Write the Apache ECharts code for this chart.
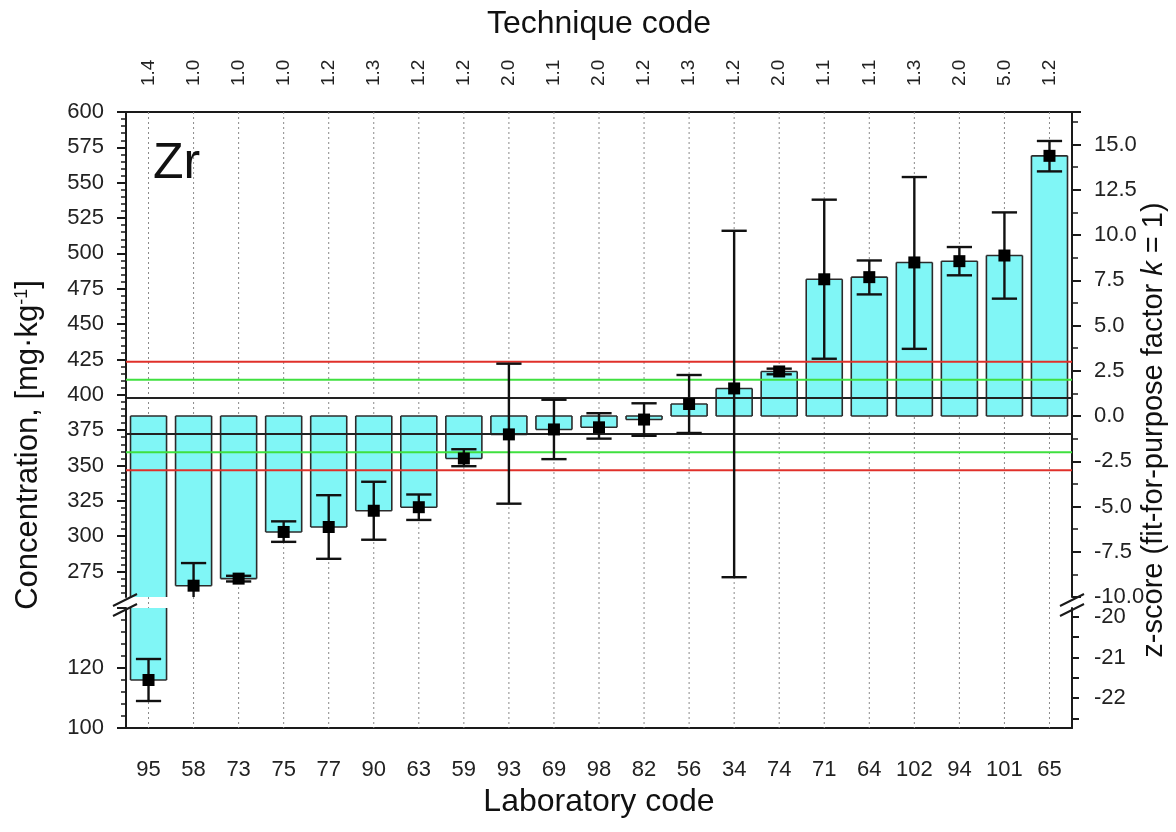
<!DOCTYPE html>
<html>
<head>
<meta charset="utf-8">
<title>Zr</title>
<script src="https://cdn.jsdelivr.net/npm/echarts@6/dist/echarts.min.js"></script>
<style>
html, body { margin: 0; padding: 0; background: #fff; }
#main { width: 1176px; height: 832px; }
</style>
</head>
<body>
<div id="main"></div>
<script>
// laboratory codes (bottom axis) and technique codes (top axis)
var labCodes = ['95', '58', '73', '75', '77', '90', '63', '59', '93', '69', '98',
                '82', '56', '34', '74', '71', '64', '102', '94', '101', '65'];
var techCodes = ['1.4', '1.0', '1.0', '1.0', '1.2', '1.3', '1.2', '1.2', '2.0', '1.1', '2.0',
                 '1.2', '1.3', '1.2', '2.0', '1.1', '1.1', '1.3', '2.0', '5.0', '1.2'];
// reported Zr concentration, mg/kg
var labValues = [116, 265, 270, 303, 306.5, 318, 320.5, 355, 372, 375.5, 377,
                 382.5, 393.5, 404.5, 416.5, 481.7, 483.2, 493.6, 494.5, 498.5, 569];
// uncertainty range (low / high ends of error bar)
var errLow = [109, 249, 268, 296, 284, 297.5, 311.5, 349.5, 323, 354.5, 369,
              371, 373, 271, 414.5, 425.5, 471, 432.5, 484.5, 468, 558];
var errHigh = [123, 281, 272, 310.5, 329, 338.5, 329.5, 361.5, 422, 396.5, 387,
               394, 414, 516, 418.5, 538, 495, 554, 504.5, 529, 579.5];

var assignedValue = 385;   // z = 0
var sigmaP = 12.8;         // fit-for-purpose sd
var zLines = [-3, -2, -1, 1, 2, 3];

// axis ranges of the broken axis
var upperMin = 257, upperMax = 600;
var lowerMin = 100, lowerMax = 140;
var zLowerMin = -22.74, zLowerMax = -19.78;
var upperLabels = [275, 300, 325, 350, 375, 400, 425, 450, 475, 500, 525, 550, 575, 600];

var upperMinor = [];
for (var t = 260; t <= 600; t += 5) upperMinor.push(t);

// layout
var plotLeft = 126, plotRight = 1072, plotTop = 112, plotBottom = 728;
var upperBottom = 597, lowerTop = 608;
var leftNameCenter = 445, rightNameCenter = 430;

var FONT = '"Liberation Sans", Arial, sans-serif';
var INK = '#1a1a1a';

function clipSpan(y0, y1, cs) {
    var a = Math.max(Math.min(y0, y1), cs.y);
    var b = Math.min(Math.max(y0, y1), cs.y + cs.height);
    return a < b ? [a, b] : null;
}
function isIn(y, cs) {
    return y >= cs.y - 0.5 && y <= cs.y + cs.height + 0.5;
}
function seg(x1, y1, x2, y2, style) {
    return { type: 'line', shape: { x1: x1, y1: y1, x2: x2, y2: y2 }, style: style };
}

function renderBar(params, api) {
    var i = api.value(0), v = api.value(1);
    var cs = params.coordSys;
    var p0 = api.coord([i, assignedValue]);
    var p1 = api.coord([i, v]);
    var w = api.size([1, 0])[0] * 0.8;
    var span = clipSpan(p0[1], p1[1], cs);
    if (!span) return;
    var xl = p0[0] - w / 2, xr = p0[0] + w / 2;
    var edge = { stroke: '#2b2b2b', lineWidth: 1.6 };
    var kids = [
        { type: 'rect', shape: { x: xl, y: span[0], width: w, height: span[1] - span[0] },
          style: { fill: '#80F6F6' } },
        seg(xl, span[0], xl, span[1], edge),
        seg(xr, span[0], xr, span[1], edge)
    ];
    if (isIn(p0[1], cs)) kids.push(seg(xl, p0[1], xr, p0[1], edge));
    if (isIn(p1[1], cs)) kids.push(seg(xl, p1[1], xr, p1[1], edge));
    return { type: 'group', children: kids };
}

function renderErr(params, api) {
    var i = api.value(0);
    var cs = params.coordSys;
    var pv = api.coord([i, api.value(1)]);
    var pl = api.coord([i, api.value(2)]);
    var ph = api.coord([i, api.value(3)]);
    var cap = api.size([1, 0])[0] * 0.28;
    var st = { stroke: '#111', lineWidth: 2.4 };
    var kids = [];
    var span = clipSpan(pl[1], ph[1], cs);
    if (span) kids.push(seg(pv[0], span[0], pv[0], span[1], st));
    if (isIn(pl[1], cs)) kids.push(seg(pv[0] - cap, pl[1], pv[0] + cap, pl[1], st));
    if (isIn(ph[1], cs)) kids.push(seg(pv[0] - cap, ph[1], pv[0] + cap, ph[1], st));
    if (isIn(pv[1], cs)) {
        kids.push({ type: 'rect', shape: { x: pv[0] - 6, y: pv[1] - 6, width: 12, height: 12 },
                    style: { fill: '#000' } });
    }
    return { type: 'group', children: kids };
}

function renderDots(params, api) {
    var cs = params.coordSys;
    var x = api.coord([api.value(0), 0])[0];
    return seg(x, cs.y, x, cs.y + cs.height,
               { stroke: '#8a8a8a', lineWidth: 1, lineDash: [2, 3] });
}

function renderZLine(params, api) {
    var cs = params.coordSys;
    var y = api.coord([0, api.value(1)])[1];
    var z = Math.abs(api.value(2));
    var color = z === 1 ? '#222' : (z === 2 ? '#3fe03f' : '#e0302a');
    return seg(cs.x, y, cs.x + cs.width, y, { stroke: color, lineWidth: 2 });
}

var chart = echarts.init(document.getElementById('main'), null, { renderer: 'canvas' });

var barData = labValues.map(function (v, i) { return [i, v]; });
var errData = labValues.map(function (v, i) { return [i, v, errLow[i], errHigh[i]]; });
var dotData = labCodes.map(function (c, i) { return [i, 0]; });
var zData = zLines.map(function (z) { return [0, assignedValue + z * sigmaP, z]; });

function hiddenX(gi) {
    return { type: 'category', gridIndex: gi, data: labCodes, show: false };
}
function nameAxis(gi, pos, name, gap, rich) {
    return {
        type: 'value', gridIndex: gi, position: pos, min: 0, max: 1,
        axisLine: { show: false }, axisTick: { show: false }, axisLabel: { show: false },
        splitLine: { show: false },
        name: name, nameLocation: 'middle', nameRotate: 90, nameGap: gap,
        nameTextStyle: { rich: rich }
    };
}

var tickStyle = { color: INK, width: 2 };
var lineStyle = { color: INK, width: 2 };
var labelStyle = { fontSize: 22, color: '#222', fontFamily: FONT };
var gridR = 1176 - plotRight;

var option = {
    animation: false,
    textStyle: { fontFamily: FONT },
    title: {
        text: 'Zr', left: 148, top: 134,
        textStyle: { fontSize: 50, fontWeight: 'normal', color: '#111', fontFamily: FONT }
    },
    grid: [
        { left: plotLeft, right: gridR, top: plotTop, bottom: 832 - plotBottom },
        { left: plotLeft, right: gridR, top: plotTop, height: upperBottom - plotTop },
        { left: plotLeft, right: gridR, top: lowerTop, height: plotBottom - lowerTop },
        { left: plotLeft, right: gridR, top: leftNameCenter - 100, height: 200 },
        { left: plotLeft, right: gridR, top: rightNameCenter - 100, height: 200 }
    ],
    xAxis: [
        {
            type: 'category', gridIndex: 0, data: labCodes, position: 'bottom',
            axisLine: { onZero: false, lineStyle: lineStyle },
            axisTick: { alignWithLabel: true, interval: 0, length: 11, lineStyle: tickStyle },
            axisLabel: { interval: 0, fontSize: 22, color: '#222', margin: 31, fontFamily: FONT },
            splitLine: { show: false },
            name: 'Laboratory code', nameLocation: 'middle', nameGap: 58,
            nameTextStyle: { fontSize: 32, color: '#111', fontFamily: FONT }
        },
        {
            type: 'category', gridIndex: 0, data: labCodes, position: 'top',
            axisLine: { onZero: false, lineStyle: lineStyle },
            axisTick: { alignWithLabel: true, interval: 0, length: 12, lineStyle: tickStyle },
            axisLabel: {
                interval: 0, rotate: -90, fontSize: 19, color: '#222', margin: 26, fontFamily: FONT,
                formatter: function (v, idx) { return techCodes[idx]; }
            },
            splitLine: { show: false },
            name: 'Technique code', nameLocation: 'middle', nameGap: 72,
            nameTextStyle: { fontSize: 32, color: '#111', fontFamily: FONT }
        },
        hiddenX(1),
        hiddenX(2),
        hiddenX(3),
        hiddenX(4)
    ],
    yAxis: [
        nameAxis(3, 'left', '{n|Concentration, [mg·kg}{s|-1}{n|]}', 82, {
            n: { fontSize: 31, color: '#111', fontFamily: FONT },
            s: { fontSize: 18, color: '#111', fontFamily: FONT, verticalAlign: 'top' }
        }),
        nameAxis(4, 'right', '{n|z-score (fit-for-purpose factor }{i|k}{n| = 1)}', 74, {
            n: { fontSize: 29, color: '#111', fontFamily: FONT },
            i: { fontSize: 29, color: '#111', fontFamily: FONT, fontStyle: 'italic' }
        }),
        {
            type: 'value', gridIndex: 1, position: 'left', min: upperMin, max: upperMax,
            axisLine: { show: true, lineStyle: lineStyle },
            axisTick: { show: true, length: 9, lineStyle: tickStyle, customValues: upperLabels },
            axisLabel: Object.assign({ margin: 22, customValues: upperLabels }, labelStyle),
            splitLine: { show: false }
        },
        {
            type: 'value', gridIndex: 1, position: 'left', min: upperMin, max: upperMax,
            axisLine: { show: false },
            axisTick: { show: true, length: 5, lineStyle: { color: INK, width: 1.5 }, customValues: upperMinor },
            axisLabel: { show: false },
            splitLine: { show: false }
        },
        {
            type: 'value', gridIndex: 1, position: 'right',
            min: -10, max: (upperMax - assignedValue) / sigmaP, interval: 2.5,
            axisLine: { show: true, lineStyle: lineStyle },
            axisTick: { show: true, length: 9, lineStyle: tickStyle },
            minorTick: { show: true, splitNumber: 2, length: 6, lineStyle: { color: INK, width: 1.5 } },
            axisLabel: Object.assign({
                margin: 22, showMaxLabel: false,
                formatter: function (v) { return v.toFixed(1); }
            }, labelStyle),
            splitLine: { show: false }
        },
        {
            type: 'value', gridIndex: 2, position: 'left', min: lowerMin, max: lowerMax, interval: 20,
            axisLine: { show: true, lineStyle: lineStyle },
            axisTick: { show: true, length: 9, lineStyle: tickStyle },
            minorTick: { show: true, splitNumber: 5, length: 5, lineStyle: { color: INK, width: 1.5 } },
            axisLabel: Object.assign({ margin: 22, showMaxLabel: false }, labelStyle),
            splitLine: { show: false }
        },
        {
            type: 'value', gridIndex: 2, position: 'right', min: zLowerMin, max: zLowerMax,
            splitNumber: 6,
            axisLine: { show: true, lineStyle: lineStyle },
            axisTick: { show: true, length: 7, lineStyle: tickStyle },
            axisLabel: Object.assign({
                margin: 22, showMinLabel: false, showMaxLabel: false,
                formatter: function (v) {
                    return Math.abs(v - Math.round(v)) < 1e-6 ? String(Math.round(v)) : '';
                }
            }, labelStyle),
            splitLine: { show: false }
        },
        {
            // frame grid value axis (only used to place the dotted guide lines)
            type: 'value', gridIndex: 0, min: 0, max: 1, show: false
        }
    ],
    graphic: [
        // axis break marks
        { type: 'line', shape: { x1: plotLeft - 13, y1: upperBottom + 9, x2: plotLeft + 11, y2: upperBottom - 3 },
          style: { stroke: INK, lineWidth: 2 }, z: 100 },
        { type: 'line', shape: { x1: plotLeft - 13, y1: lowerTop + 8, x2: plotLeft + 11, y2: lowerTop - 4 },
          style: { stroke: INK, lineWidth: 2 }, z: 100 },
        { type: 'line', shape: { x1: plotRight - 12, y1: upperBottom + 9, x2: plotRight + 12, y2: upperBottom - 3 },
          style: { stroke: INK, lineWidth: 2 }, z: 100 },
        { type: 'line', shape: { x1: plotRight - 12, y1: lowerTop + 8, x2: plotRight + 12, y2: lowerTop - 4 },
          style: { stroke: INK, lineWidth: 2 }, z: 100 }
    ],
    series: [
        { type: 'custom', name: 'grid lines', xAxisIndex: 0, yAxisIndex: 7, data: dotData,
          renderItem: renderDots, z: 1, silent: true },
        { type: 'custom', name: 'bars upper', xAxisIndex: 2, yAxisIndex: 2, data: barData,
          renderItem: renderBar, z: 2 },
        { type: 'custom', name: 'bars lower', xAxisIndex: 3, yAxisIndex: 5, data: barData,
          renderItem: renderBar, z: 2 },
        { type: 'custom', name: 'z limits', xAxisIndex: 2, yAxisIndex: 2, data: zData,
          renderItem: renderZLine, z: 3, silent: true },
        { type: 'custom', name: 'results upper', xAxisIndex: 2, yAxisIndex: 2, data: errData,
          renderItem: renderErr, z: 4 },
        { type: 'custom', name: 'results lower', xAxisIndex: 3, yAxisIndex: 5, data: errData,
          renderItem: renderErr, z: 4 }
    ]
};

chart.setOption(option);
</script>
</body>
</html>
